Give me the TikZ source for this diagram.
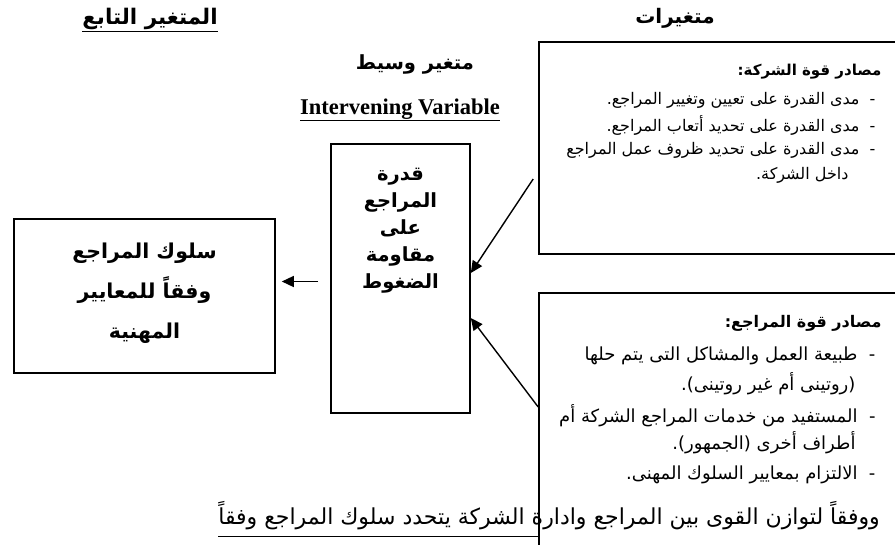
\documentclass[tikz,border=0pt]{standalone}
\usepackage{fontspec}
\setmainfont{Liberation Serif}
\newfontfamily\arabicfont[Script=Arabic]{DejaVu Sans}
\TeXXeTstate=1
\usetikzlibrary{arrows.meta,positioning,calc}
\newcommand{\artext}[1]{{\arabicfont\beginR #1\endR}}

\begin{document}
\begin{tikzpicture}[x=1pt, y=-1pt, >={Triangle[length=12pt,width=11pt]},
  box/.style={draw, line width=1.6pt, inner sep=0pt},
  arr/.style={->, line width=1.4pt},
  title/.style={font=\bfseries\fontsize{19.5}{24}\selectfont},
  bighead/.style={font=\bfseries\fontsize{20.5}{40}\selectfont, align=center},
  midhead/.style={font=\bfseries\fontsize{19.5}{27}\selectfont, align=center},
  listhead/.style={anchor=east, font=\bfseries\fontsize{15}{18}\selectfont},
  listline/.style={anchor=east, font=\fontsize{16}{18}\selectfont}]
\clip (0,0) rectangle (895,544);
\fill[white] (0,0) rectangle (895,544);

% column titles
\node[title, font=\bfseries\fontsize{21.5}{24}\selectfont] (ttldep) at (150,20) {\underline{\artext{المتغير التابع}}};
\node[title, font=\bfseries\fontsize{20}{24}\selectfont] (ttlind) at (675,18) {\artext{متغيرات}};
\node[title] (ttlmed) at (415,64) {\artext{متغير وسيط}};
\node[title, font=\bfseries\fontsize{22.5}{26}\selectfont] (ttlmeden) at (400,110) {\underline{Intervening Variable}};

% boxes
\node[box, minimum width=261pt, minimum height=154pt] (dep) at (144.5,296) {};
\node[box, minimum width=139pt, minimum height=269pt] (med) at (400.5,278.5) {};
\node[box, minimum width=366pt, minimum height=212pt] (firm) at (722,148) {};
\node[box, minimum width=366pt, minimum height=267pt] (aud) at (722,426.5) {};

\node[bighead] (deptxt) at ([yshift=3pt]dep.center)
  {\artext{سلوك المراجع}\\\artext{وفقاً للمعايير}\\\artext{المهنية}};
\node[midhead, anchor=north] (medtxt) at ([yshift=-21pt]med.north)
  {\artext{قدرة}\\\artext{المراجع}\\\artext{على}\\\artext{مقاومة}\\\artext{الضغوط}};

% sources of power
\node[listhead] (firmhead) at (885,72) {\artext{مصادر قوة الشركة:}};
\foreach \y/\x/\t [count=\i] in {
    100/879/{-~~مدى القدرة على تعيين وتغيير المراجع.},
    125/879/{-~~مدى القدرة على تحديد أتعاب المراجع.},
    150/879/{-~~مدى القدرة على تحديد ظروف عمل المراجع},
    175/852/{داخل الشركة.}}{
  \node[listline] (firm\i) at (\x,\y) {\artext{\t}};
}
\node[listhead, font=\bfseries\fontsize{16}{18}\selectfont] (audhead) at (885,323) {\artext{مصادر قوة المراجع:}};
\foreach \y/\x/\t [count=\i] in {
    356/879/{-~~طبيعة العمل والمشاكل التى يتم حلها},
    384/859/{(روتينى أم غير روتينى).},
    416/879/{-~~المستفيد من خدمات المراجع الشركة أم},
    443/859/{أطراف أخرى (الجمهور).},
    475/879/{-~~الالتزام بمعايير السلوك المهنى.}}{
  \node[listline, font=\fontsize{18}{20}\selectfont] (aud\i) at (\x,\y) {\artext{\t}};
}

% arrows
\draw[arr] ([xshift=-12pt,yshift=-3pt]med.west) -- ([xshift=6pt,yshift=-3pt]med.west -| dep.east);
\coordinate (firmtail) at ([xshift=-5pt,yshift=-31pt]firm.west);
\draw[arr] (firmtail) -- ([yshift=5.5pt]med.east);
\draw[arr] ([yshift=19.5pt]aud.west) -- ([yshift=-39.5pt]med.east);

% closing sentence
\node[anchor=east, font=\fontsize{22}{26}\selectfont, inner sep=0pt] (concl) at (880,516)
  {\artext{ووفقاً لتوازن القوى بين المراجع وادارة الشركة يتحدد سلوك المراجع وفقاً}};
\draw[line width=0.9pt] ([yshift=-6pt]concl.south west) -- ([yshift=-6pt]concl.south west -| aud.west);
\end{tikzpicture}
\end{document}
